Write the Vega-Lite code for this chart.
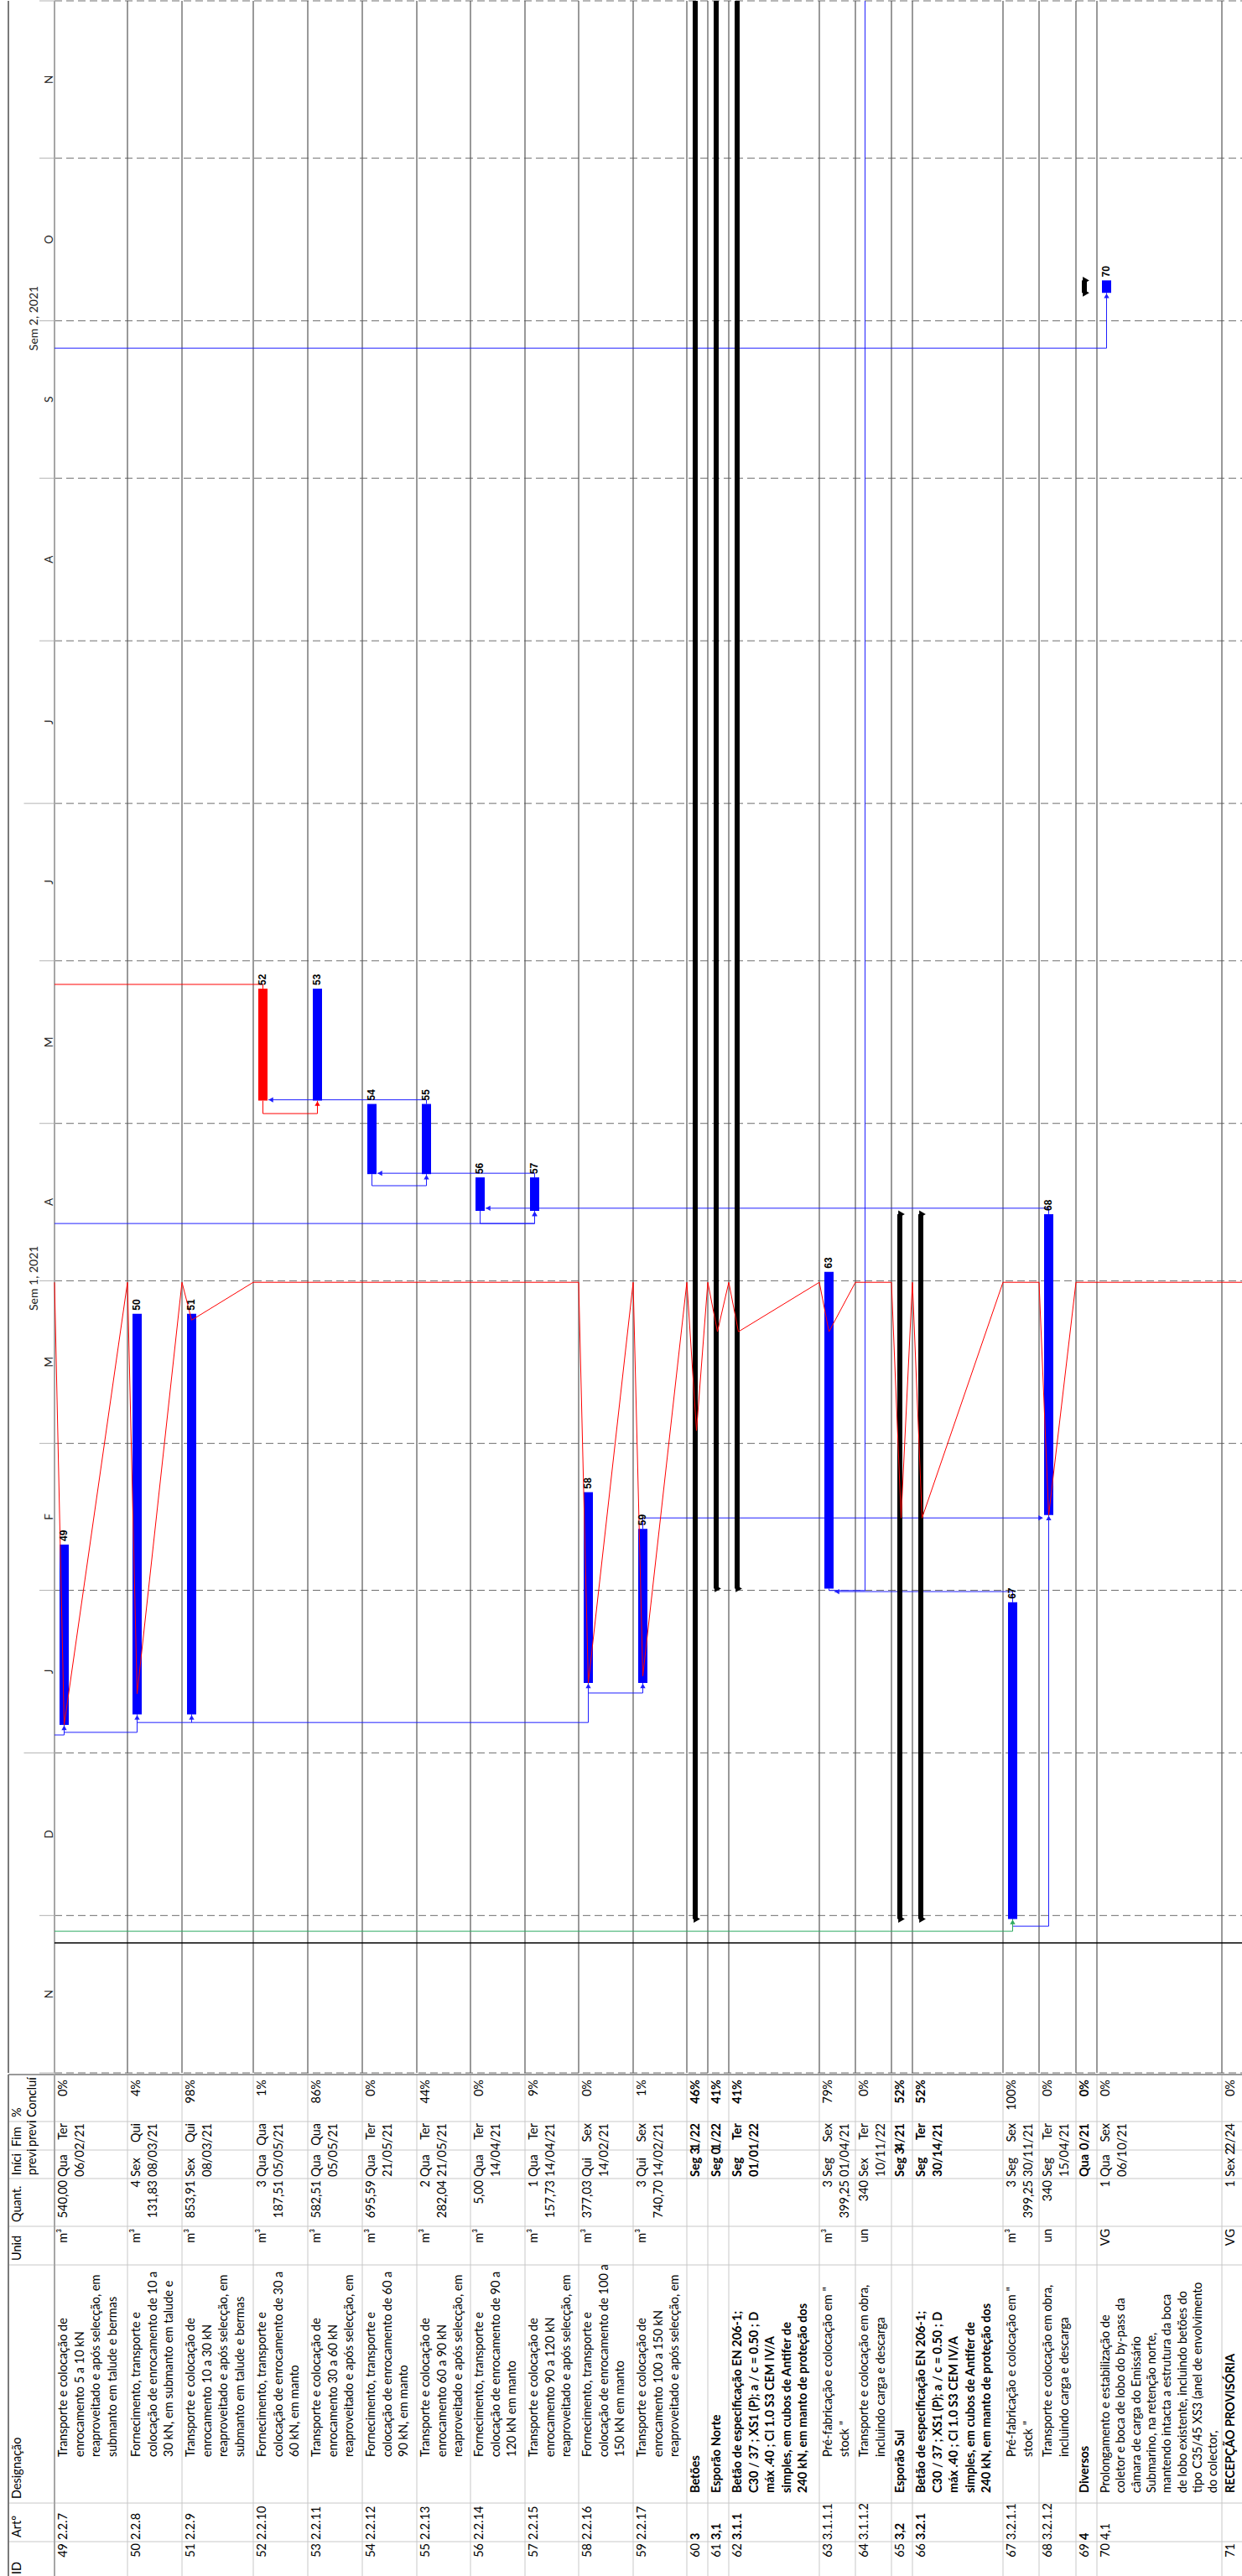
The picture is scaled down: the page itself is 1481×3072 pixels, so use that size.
{
"$schema":"https://vega.github.io/schema/vega-lite/v6.json",
"background":"white",
"padding":0,
"spacing":0,
"config":{"view":{"stroke":null},"legend":{"disable":true},"text":{"font":"Lato","color":"#000000"}},
"resolve":{"scale":{"x":"independent","y":"independent"}},
"datasets":{
"tarefas":[
{"id":49,"art":"2.2.7","des":["Transporte e colocação de","enrocamento 5 a 10 kN","reaproveitado e após selecção, em","submanto em talude e bermas"],"unid":"m³","quant":"540,00","inicio":"Qua 06/01/21","fim":"Ter 09/02/21","pct":"0%","start":"2021-01-06T08:00:00Z","end":"2021-02-09T17:00:00Z","tipo":"tarefa","critica":false,"nivel":4,"linhas":4,"estado":"2021-03-31T17:00:00Z","progresso":"2021-01-06T08:00:00Z"},
{"id":50,"art":"2.2.8","des":["Fornecimento, transporte e","colocação de enrocamento de 10 a","30 kN, em submanto em talude e"],"unid":"m³","quant":"4 131,83","inicio":"Sex 08/01/21","fim":"Qui 25/03/21","pct":"4%","start":"2021-01-08T08:00:00Z","end":"2021-03-25T17:00:00Z","tipo":"tarefa","critica":false,"nivel":4,"linhas":3,"estado":"2021-03-31T17:00:00Z","progresso":"2021-01-12T06:00:00Z"},
{"id":51,"art":"2.2.9","des":["Transporte e colocação de","enrocamento 10 a 30 kN","reaproveitado e após selecção, em","submanto em talude e bermas"],"unid":"m³","quant":"853,91","inicio":"Sex 08/01/21","fim":"Qui 25/03/21","pct":"98%","start":"2021-01-08T08:00:00Z","end":"2021-03-25T17:00:00Z","tipo":"tarefa","critica":false,"nivel":4,"linhas":4,"estado":"2021-03-31T17:00:00Z","progresso":"2021-03-24T12:00:00Z"},
{"id":52,"art":"2.2.10","des":["Fornecimento, transporte e","colocação de enrocamento de 30 a","60 kN, em manto"],"unid":"m³","quant":"3 187,51","inicio":"Qua 05/05/21","fim":"Qua 26/05/21","pct":"1%","start":"2021-05-05T08:00:00Z","end":"2021-05-26T17:00:00Z","tipo":"tarefa","critica":true,"nivel":4,"linhas":3,"estado":"2021-03-31T17:00:00Z"},
{"id":53,"art":"2.2.11","des":["Transporte e colocação de","enrocamento 30 a 60 kN","reaproveitado e após selecção, em"],"unid":"m³","quant":"582,51","inicio":"Qua 05/05/21","fim":"Qua 26/05/21","pct":"86%","start":"2021-05-05T08:00:00Z","end":"2021-05-26T17:00:00Z","tipo":"tarefa","critica":false,"nivel":4,"linhas":3,"estado":"2021-03-31T17:00:00Z"},
{"id":54,"art":"2.2.12","des":["Fornecimento, transporte e","colocação de enrocamento de 60 a","90 kN, em manto"],"unid":"m³","quant":"695,59","inicio":"Qua 21/04/21","fim":"Ter 04/05/21","pct":"0%","start":"2021-04-21T08:00:00Z","end":"2021-05-04T17:00:00Z","tipo":"tarefa","critica":false,"nivel":4,"linhas":3,"estado":"2021-03-31T17:00:00Z"},
{"id":55,"art":"2.2.13","des":["Transporte e colocação de","enrocamento 60 a 90 kN","reaproveitado e após selecção, em"],"unid":"m³","quant":"2 282,04","inicio":"Qua 21/04/21","fim":"Ter 04/05/21","pct":"44%","start":"2021-04-21T08:00:00Z","end":"2021-05-04T17:00:00Z","tipo":"tarefa","critica":false,"nivel":4,"linhas":3,"estado":"2021-03-31T17:00:00Z"},
{"id":56,"art":"2.2.14","des":["Fornecimento, transporte e","colocação de enrocamento de 90 a","120 kN em manto"],"unid":"m³","quant":"5,00","inicio":"Qua 14/04/21","fim":"Ter 20/04/21","pct":"0%","start":"2021-04-14T08:00:00Z","end":"2021-04-20T17:00:00Z","tipo":"tarefa","critica":false,"nivel":4,"linhas":3,"estado":"2021-03-31T17:00:00Z"},
{"id":57,"art":"2.2.15","des":["Transporte e colocação de","enrocamento 90 a 120 kN","reaproveitado e após selecção, em"],"unid":"m³","quant":"1 157,73","inicio":"Qua 14/04/21","fim":"Ter 20/04/21","pct":"9%","start":"2021-04-14T08:00:00Z","end":"2021-04-20T17:00:00Z","tipo":"tarefa","critica":false,"nivel":4,"linhas":3,"estado":"2021-03-31T17:00:00Z"},
{"id":58,"art":"2.2.16","des":["Fornecimento, transporte e","colocação de enrocamento de 100 a","150 kN em manto"],"unid":"m³","quant":"377,03","inicio":"Qui 14/01/21","fim":"Sex 19/02/21","pct":"0%","start":"2021-01-14T08:00:00Z","end":"2021-02-19T17:00:00Z","tipo":"tarefa","critica":false,"nivel":4,"linhas":3,"estado":"2021-03-31T17:00:00Z","progresso":"2021-01-14T08:00:00Z"},
{"id":59,"art":"2.2.17","des":["Transporte e colocação de","enrocamento 100 a 150 kN","reaproveitado e após selecção, em"],"unid":"m³","quant":"3 740,70","inicio":"Qui 14/01/21","fim":"Sex 12/02/21","pct":"1%","start":"2021-01-14T08:00:00Z","end":"2021-02-12T17:00:00Z","tipo":"tarefa","critica":false,"nivel":4,"linhas":3,"estado":"2021-03-31T17:00:00Z","progresso":"2021-01-15T15:00:00Z"},
{"id":60,"art":"3","des":["Betões"],"unid":"","quant":"","inicio":"Seg 30/11/20","fim":"Ter 11/01/22","pct":"46%","start":"2020-11-30T08:00:00Z","end":"2022-01-11T17:00:00Z","tipo":"resumo","critica":false,"nivel":1,"linhas":1,"estado":"2021-03-31T17:00:00Z","progresso":"2021-03-03T10:00:00Z"},
{"id":61,"art":"3,1","des":["Esporão Norte"],"unid":"","quant":"","inicio":"Seg 01/02/21","fim":"Ter 11/01/22","pct":"41%","start":"2021-02-01T08:00:00Z","end":"2022-01-11T17:00:00Z","tipo":"resumo","critica":false,"nivel":2,"linhas":1,"estado":"2021-03-31T17:00:00Z","progresso":"2021-03-22T07:00:00Z"},
{"id":62,"art":"3.1.1","des":["Betão de especificação EN 206-1;","C30 / 37 ; XS1 (P); a / c = 0.50 ; D","máx .40 ; Cl 1.0 S3 CEM IV/A","simples, em cubos de Antifer de","240 kN, em manto de proteção dos"],"unid":"","quant":"","inicio":"Seg 01/02/21","fim":"Ter 11/01/22","pct":"41%","start":"2021-02-01T08:00:00Z","end":"2022-01-11T17:00:00Z","tipo":"resumo","critica":false,"nivel":3,"linhas":5,"estado":"2021-03-31T17:00:00Z","progresso":"2021-03-22T07:00:00Z"},
{"id":63,"art":"3.1.1.1","des":["Pré-fabricação e colocação em \"","stock \""],"unid":"m³","quant":"3 399,25","inicio":"Seg 01/02/21","fim":"Sex 02/04/21","pct":"79%","start":"2021-02-01T08:00:00Z","end":"2021-04-02T17:00:00Z","tipo":"tarefa","critica":false,"nivel":4,"linhas":2,"estado":"2021-03-31T17:00:00Z","progresso":"2021-03-22T07:00:00Z"},
{"id":64,"art":"3.1.1.2","des":["Transporte e colocação em obra,","incluindo carga e descarga"],"unid":"un","quant":"340","inicio":"Sex 10/12/21","fim":"Ter 11/01/22","pct":"0%","start":"2021-12-10T08:00:00Z","end":"2022-01-11T17:00:00Z","tipo":"tarefa","critica":false,"nivel":4,"linhas":2,"estado":"2021-03-31T17:00:00Z"},
{"id":65,"art":"3,2","des":["Esporão Sul"],"unid":"","quant":"","inicio":"Seg 30/11/20","fim":"Ter 13/04/21","pct":"52%","start":"2020-11-30T08:00:00Z","end":"2021-04-13T17:00:00Z","tipo":"resumo","critica":false,"nivel":2,"linhas":1,"estado":"2021-03-31T17:00:00Z","progresso":"2021-02-14T19:00:00Z"},
{"id":66,"art":"3.2.1","des":["Betão de especificação EN 206-1;","C30 / 37 ; XS1 (P); a / c = 0.50 ; D","máx .40 ; Cl 1.0 S3 CEM IV/A","simples, em cubos de Antifer de","240 kN, em manto de proteção dos"],"unid":"","quant":"","inicio":"Seg 30/11/20","fim":"Ter 13/04/21","pct":"52%","start":"2020-11-30T08:00:00Z","end":"2021-04-13T17:00:00Z","tipo":"resumo","critica":false,"nivel":3,"linhas":5,"estado":"2021-03-31T17:00:00Z","progresso":"2021-02-14T19:00:00Z"},
{"id":67,"art":"3.2.1.1","des":["Pré-fabricação e colocação em \"","stock \""],"unid":"m³","quant":"3 399,25","inicio":"Seg 30/11/20","fim":"Sex 29/01/21","pct":"100%","start":"2020-11-30T08:00:00Z","end":"2021-01-29T17:00:00Z","tipo":"tarefa","critica":false,"nivel":4,"linhas":2,"estado":"2021-03-31T17:00:00Z"},
{"id":68,"art":"3.2.1.2","des":["Transporte e colocação em obra,","incluindo carga e descarga"],"unid":"un","quant":"340","inicio":"Seg 15/02/21","fim":"Ter 13/04/21","pct":"0%","start":"2021-02-15T08:00:00Z","end":"2021-04-13T17:00:00Z","tipo":"tarefa","critica":false,"nivel":4,"linhas":2,"estado":"2021-03-31T17:00:00Z","progresso":"2021-02-15T08:00:00Z"},
{"id":69,"art":"4","des":["Diversos"],"unid":"","quant":"","inicio":"Qua 06/10/21","fim":"Sex 08/10/21","pct":"0%","start":"2021-10-06T08:00:00Z","end":"2021-10-08T17:00:00Z","tipo":"resumo","critica":false,"nivel":1,"linhas":1,"estado":"2021-03-31T17:00:00Z"},
{"id":70,"art":"4,1","des":["Prolongamento e estabilização de","coletor e boca de lobo do by-pass da","câmara de carga do Emissário","Submarino, na retenção norte,","mantendo intacta a estrutura da boca","de lobo existente, incluindo betões do","tipo C35/45 XS3 (anel de envolvimento","do colector,"],"unid":"VG","quant":"1","inicio":"Qua 06/10/21","fim":"Sex 08/10/21","pct":"0%","start":"2021-10-06T08:00:00Z","end":"2021-10-08T17:00:00Z","tipo":"tarefa","critica":false,"nivel":2,"linhas":7,"estado":"2021-03-31T17:00:00Z"},
{"id":71,"art":"","des":["RECEPÇÃO PROVISÓRIA"],"unid":"VG","quant":"1","inicio":"Sex 20/12/24","fim":"Sex 20/12/24","pct":"0%","start":"2024-12-20T08:00:00Z","end":"2024-12-20T08:00:00Z","tipo":"marco","critica":false,"nivel":1,"linhas":1,"estado":"2021-03-31T17:00:00Z"}
],
"ligacoes":[
{"de":49,"para":49,"externo":true,"t":"2021-01-04T10:00:00Z","t1":"2021-01-06T08:00:00Z","seta":"cima","cat":"normal"},
{"de":49,"para":50,"externo":false,"t0":"2021-01-06T08:00:00Z","t":"2021-01-04T22:00:00Z","t1":"2021-01-08T08:00:00Z","seta":"cima","cat":"normal"},
{"de":50,"para":51,"externo":false,"t0":"2021-01-08T08:00:00Z","t":"2021-01-06T19:00:00Z","t1":"2021-01-08T08:00:00Z","seta":"cima","cat":"normal"},
{"de":51,"para":58,"externo":false,"t0":"2021-01-08T08:00:00Z","t":"2021-01-06T19:00:00Z","t1":"2021-01-14T08:00:00Z","seta":"cima","cat":"normal"},
{"de":58,"para":59,"externo":false,"t0":"2021-01-14T08:00:00Z","t":"2021-01-12T10:00:00Z","t1":"2021-01-14T08:00:00Z","seta":"cima","cat":"normal"},
{"de":59,"para":68,"externo":false,"t0":"2021-02-12T17:00:00Z","t":"2021-02-14T19:00:00Z","t1":"2021-02-14T19:00:00Z","seta":"direita","cat":"normal"},
{"de":67,"para":63,"externo":false,"t0":"2021-01-29T17:00:00Z","t":"2021-01-31T18:00:00Z","t1":"2021-01-31T18:00:00Z","seta":"esquerda","cat":"normal"},
{"de":63,"para":64,"externo":false,"t0":"2021-02-01T08:00:00Z","t":"2021-01-31T23:00:00Z","t1":"2021-12-10T08:00:00Z","seta":"cima","cat":"normal"},
{"de":67,"para":68,"externo":false,"t0":"2020-11-30T08:00:00Z","t":"2020-11-28T23:00:00Z","t1":"2021-02-15T08:00:00Z","seta":"cima","cat":"normal"},
{"de":49,"para":67,"externo":true,"t":"2020-11-28T00:00:00Z","t1":"2020-11-30T08:00:00Z","seta":"cima","cat":"motriz"},
{"de":68,"para":56,"externo":false,"t0":"2021-04-13T17:00:00Z","t":"2021-04-14T20:00:00Z","t1":"2021-04-14T20:00:00Z","seta":"esquerda","cat":"normal"},
{"de":49,"para":57,"externo":true,"t":"2021-04-11T22:00:00Z","t1":"2021-04-14T08:00:00Z","seta":"cima","cat":"normal"},
{"de":56,"para":57,"externo":false,"t0":"2021-04-14T08:00:00Z","t":"2021-04-11T22:00:00Z","t1":"2021-04-14T08:00:00Z","seta":"cima","cat":"normal"},
{"de":57,"para":54,"externo":false,"t0":"2021-04-20T17:00:00Z","t":"2021-04-21T12:00:00Z","t1":"2021-04-21T12:00:00Z","seta":"esquerda","cat":"normal"},
{"de":54,"para":55,"externo":false,"t0":"2021-04-21T08:00:00Z","t":"2021-04-19T03:00:00Z","t1":"2021-04-21T08:00:00Z","seta":"cima","cat":"normal"},
{"de":55,"para":52,"externo":false,"t0":"2021-05-04T17:00:00Z","t":"2021-05-05T12:00:00Z","t1":"2021-05-05T12:00:00Z","seta":"esquerda","cat":"normal"},
{"de":52,"para":53,"externo":false,"t0":"2021-05-05T08:00:00Z","t":"2021-05-02T21:00:00Z","t1":"2021-05-05T08:00:00Z","seta":"cima","cat":"critica"},
{"de":49,"para":52,"externo":true,"t":"2021-05-27T12:00:00Z","t1":"2021-05-26T17:00:00Z","seta":"nenhuma","cat":"critica"},
{"de":49,"para":70,"externo":true,"t":"2021-09-25T19:00:00Z","t1":"2021-10-06T08:00:00Z","seta":"cima","cat":"normal"}
],
"meses":[
{"mes":"2020-11-01","meio":"2020-11-16T00:00:00Z","letra":"N"},{"mes":"2020-12-01","meio":"2020-12-16T12:00:00Z","letra":"D"},{"mes":"2021-01-01","meio":"2021-01-16T12:00:00Z","letra":"J"},{"mes":"2021-02-01","meio":"2021-02-15T00:00:00Z","letra":"F"},{"mes":"2021-03-01","meio":"2021-03-16T12:00:00Z","letra":"M"},{"mes":"2021-04-01","meio":"2021-04-16T00:00:00Z","letra":"A"},{"mes":"2021-05-01","meio":"2021-05-16T12:00:00Z","letra":"M"},{"mes":"2021-06-01","meio":"2021-06-16T00:00:00Z","letra":"J"},{"mes":"2021-07-01","meio":"2021-07-16T12:00:00Z","letra":"J"},{"mes":"2021-08-01","meio":"2021-08-16T12:00:00Z","letra":"A"},{"mes":"2021-09-01","meio":"2021-09-16T00:00:00Z","letra":"S"},{"mes":"2021-10-01","meio":"2021-10-16T12:00:00Z","letra":"O"},{"mes":"2021-11-01","meio":"2021-11-16T00:00:00Z","letra":"N"},{"mes":"2021-12-01","meio":"2021-12-16T12:00:00Z","letra":"D"}
],
"semestres":[
{"ini":"2021-01-01","centro":"2021-04-01T12:00:00Z","rotulo":"Sem 1, 2021"},
{"ini":"2021-07-01","centro":"2021-10-01T12:00:00Z","rotulo":"Sem 2, 2021"}
],
"colunas":[
{"i":1,"rotulo":["%","Concluído"]},{"i":2,"rotulo":["Fim","previsto"]},{"i":3,"rotulo":["Início","previsto"]},{"i":4,"rotulo":["Quant."]},{"i":5,"rotulo":["Unid"]},{"i":6,"rotulo":["Designação"]},{"i":7,"rotulo":["Artº"]},{"i":8,"rotulo":["ID"]}
],
"um":[{"k":1}]
},
"vconcat":[
{"width":1481,"height":2471,"layer":[
{"data":{"name":"meses"},"mark":{"type":"rule","color":"#6e6e6e","strokeWidth":1,"strokeDash":[9,5]},"encoding":{"x":{"datum":49,"type":"quantitative","axis":null,"scale":{"type":"linear","zero":false,"nice":false,"domain":[46,47,48,49,50,51,52,53,54,55,56,57,58,59,60,61,62,63,64,65,66,67,68,69,70,71,72],"range":[0,10,47,65,152,217,302,367,432,497,561,626,690,755,819,844,869,977,1020,1063,1088,1196,1239,1283,1308,1457,1482]}},"x2":{"datum":72},"y":{"field":"mes","type":"temporal","axis":null,"scale":{"type":"utc","nice":false,"domain":[{"year":2020,"month":11,"date":1,"utc":true},{"year":2021,"month":12,"date":1,"utc":true}]}}}},
{"data":{"name":"meses"},"mark":{"type":"rule","color":"#b4b4b4","strokeWidth":1},"encoding":{"x":{"datum":48,"type":"quantitative","axis":null},"x2":{"datum":49},"y":{"field":"mes","type":"temporal","axis":null}}},
{"data":{"name":"semestres"},"mark":{"type":"rule","color":"#b4b4b4","strokeWidth":1},"encoding":{"x":{"datum":47.5,"type":"quantitative","axis":null},"x2":{"datum":48},"y":{"field":"ini","type":"temporal","axis":null}}},
{"data":{"name":"semestres"},"mark":{"type":"text","angle":270,"align":"center","baseline":"alphabetic","font":"Lato","fontSize":14,"color":"#222222","xOffset":-2},"encoding":{"x":{"datum":48,"type":"quantitative","axis":null},"y":{"field":"centro","type":"temporal","axis":null},"text":{"field":"rotulo","type":"nominal"}}},
{"data":{"name":"meses"},"transform":[{"filter":"+toDate(datum.meio) < utc(2021, 11, 1)"}],"mark":{"type":"text","angle":270,"align":"center","baseline":"alphabetic","font":"Lato","fontSize":13.5,"color":"#222222","xOffset":-2},"encoding":{"x":{"datum":49,"type":"quantitative","axis":null},"y":{"field":"meio","type":"temporal","axis":null},"text":{"field":"letra","type":"nominal"}}},
{"data":{"name":"tarefas"},"transform":[{"filter":"datum.id > 49"}],"mark":{"type":"rule","color":"#555555","strokeWidth":1.2},"encoding":{"x":{"field":"id","type":"quantitative","axis":null}}},
{"data":{"name":"um"},"mark":{"type":"rule","color":"#a6a6a6","strokeWidth":2},"encoding":{"x":{"datum":49,"type":"quantitative","axis":null}}},
{"data":{"name":"um"},"mark":{"type":"rule","color":"#7a7a7a","strokeWidth":2},"encoding":{"x":{"datum":47,"type":"quantitative","axis":null}}},
{"data":{"name":"um"},"mark":{"type":"rule","color":"#000000","strokeWidth":1.5},"encoding":{"x":{"datum":49,"type":"quantitative","axis":null},"x2":{"datum":72},"y":{"datum":{"year":2020,"month":11,"date":25,"hours":19,"utc":true},"type":"temporal","axis":null}}},
{"data":{"name":"ligacoes"},"transform":[{"filter":"!datum.externo"}],"mark":{"type":"rule","strokeWidth":1,"xOffset":11.5,"clip":true},"encoding":{"x":{"field":"de","type":"quantitative","axis":null},"y":{"field":"t0","type":"temporal","axis":null},"y2":{"field":"t"},"color":{"field":"cat","type":"nominal","scale":{"domain":["normal","critica","motriz"],"range":["#1f1fff","#ff0000","#2eaa62"]},"legend":null}}},
{"data":{"name":"ligacoes"},"transform":[{"filter":"datum.externo"}],"mark":{"type":"rule","strokeWidth":1,"x2Offset":11.5,"clip":true},"encoding":{"x":{"field":"de","type":"quantitative","axis":null},"x2":{"field":"para"},"y":{"field":"t","type":"temporal","axis":null},"color":{"field":"cat","type":"nominal","legend":null}}},
{"data":{"name":"ligacoes"},"transform":[{"filter":"!datum.externo && datum.seta == 'cima'"}],"mark":{"type":"rule","strokeWidth":1,"xOffset":11.5,"x2Offset":11.5,"clip":true},"encoding":{"x":{"field":"de","type":"quantitative","axis":null},"x2":{"field":"para"},"y":{"field":"t","type":"temporal","axis":null},"color":{"field":"cat","type":"nominal","legend":null}}},
{"data":{"name":"ligacoes"},"transform":[{"filter":"datum.seta == 'esquerda'"}],"mark":{"type":"rule","strokeWidth":1,"xOffset":11.5,"x2Offset":18,"clip":true},"encoding":{"x":{"field":"de","type":"quantitative","axis":null},"x2":{"field":"para"},"y":{"field":"t","type":"temporal","axis":null},"color":{"field":"cat","type":"nominal","legend":null}}},
{"data":{"name":"ligacoes"},"transform":[{"filter":"datum.seta == 'direita'"}],"mark":{"type":"rule","strokeWidth":1,"xOffset":11.5,"x2Offset":4,"clip":true},"encoding":{"x":{"field":"de","type":"quantitative","axis":null},"x2":{"field":"para"},"y":{"field":"t","type":"temporal","axis":null},"color":{"field":"cat","type":"nominal","legend":null}}},
{"data":{"name":"ligacoes"},"transform":[{"filter":"datum.seta == 'cima' || datum.seta == 'nenhuma'"}],"mark":{"type":"rule","strokeWidth":1,"xOffset":11.5,"clip":true},"encoding":{"x":{"field":"para","type":"quantitative","axis":null},"y":{"field":"t","type":"temporal","axis":null},"y2":{"field":"t1"},"color":{"field":"cat","type":"nominal","legend":null}}},
{"data":{"name":"ligacoes"},"transform":[{"filter":"datum.seta == 'cima'"}],"mark":{"type":"point","shape":"triangle-up","filled":true,"opacity":1,"size":40,"xOffset":11.5,"yOffset":3.5,"clip":true},"encoding":{"x":{"field":"para","type":"quantitative","axis":null},"y":{"field":"t1","type":"temporal","axis":null},"color":{"field":"cat","type":"nominal","legend":null}}},
{"data":{"name":"ligacoes"},"transform":[{"filter":"datum.seta == 'esquerda'"}],"mark":{"type":"point","shape":"triangle-left","filled":true,"opacity":1,"size":40,"xOffset":21,"clip":true},"encoding":{"x":{"field":"para","type":"quantitative","axis":null},"y":{"field":"t","type":"temporal","axis":null},"color":{"field":"cat","type":"nominal","legend":null}}},
{"data":{"name":"ligacoes"},"transform":[{"filter":"datum.seta == 'direita'"}],"mark":{"type":"point","shape":"triangle-right","filled":true,"opacity":1,"size":40,"xOffset":2,"clip":true},"encoding":{"x":{"field":"para","type":"quantitative","axis":null},"y":{"field":"t","type":"temporal","axis":null},"color":{"field":"cat","type":"nominal","legend":null}}},
{"data":{"name":"tarefas"},"transform":[{"filter":"datum.tipo == 'tarefa'"}],"mark":{"type":"rect","xOffset":6,"x2Offset":17,"clip":true},"encoding":{"x":{"field":"id","type":"quantitative","axis":null},"x2":{"field":"id"},"y":{"field":"start","type":"temporal","axis":null},"y2":{"field":"end"},"fill":{"condition":{"test":"datum.critica","value":"#ff0000"},"value":"#0000ff"}}},
{"data":{"name":"tarefas"},"transform":[{"filter":"datum.tipo == 'resumo'"}],"mark":{"type":"rect","xOffset":7,"x2Offset":13,"color":"#000000","clip":true},"encoding":{"x":{"field":"id","type":"quantitative","axis":null},"x2":{"field":"id"},"y":{"field":"start","type":"temporal","axis":null},"y2":{"field":"end"}}},
{"data":{"name":"tarefas"},"transform":[{"filter":"datum.tipo == 'resumo'"}],"mark":{"type":"point","shape":"triangle-right","filled":true,"opacity":1,"size":80,"color":"#000000","xOffset":12,"clip":true},"encoding":{"x":{"field":"id","type":"quantitative","axis":null},"y":{"field":"start","type":"temporal","axis":null}}},
{"data":{"name":"tarefas"},"transform":[{"filter":"datum.tipo == 'resumo'"}],"mark":{"type":"point","shape":"triangle-right","filled":true,"opacity":1,"size":80,"color":"#000000","xOffset":12,"clip":true},"encoding":{"x":{"field":"id","type":"quantitative","axis":null},"y":{"field":"end","type":"temporal","axis":null}}},
{"data":{"name":"tarefas"},"transform":[{"window":[{"op":"lead","field":"id","as":"prox"}],"sort":[{"field":"id","order":"ascending"}]},{"filter":"!datum.progresso && datum.prox != null"}],"mark":{"type":"rule","color":"#ff0000","strokeWidth":1},"encoding":{"x":{"field":"id","type":"quantitative","axis":null},"x2":{"field":"prox"},"y":{"field":"estado","type":"temporal","axis":null}}},
{"data":{"name":"tarefas"},"transform":[{"filter":"datum.id == 71"}],"mark":{"type":"rule","color":"#ff0000","strokeWidth":1,"x2Offset":30},"encoding":{"x":{"field":"id","type":"quantitative","axis":null},"x2":{"field":"id"},"y":{"field":"estado","type":"temporal","axis":null}}},
{"data":{"name":"tarefas"},"transform":[{"filter":"datum.progresso"}],"mark":{"type":"rule","color":"#ff0000","strokeWidth":1,"x2Offset":11.5},"encoding":{"x":{"field":"id","type":"quantitative","axis":null},"x2":{"field":"id"},"y":{"field":"estado","type":"temporal","axis":null},"y2":{"field":"progresso"}}},
{"data":{"name":"tarefas"},"transform":[{"window":[{"op":"lead","field":"id","as":"prox"}],"sort":[{"field":"id","order":"ascending"}]},{"filter":"datum.progresso && datum.prox != null"}],"mark":{"type":"rule","color":"#ff0000","strokeWidth":1,"xOffset":11.5},"encoding":{"x":{"field":"id","type":"quantitative","axis":null},"x2":{"field":"prox"},"y":{"field":"progresso","type":"temporal","axis":null},"y2":{"field":"estado"}}},
{"data":{"name":"tarefas"},"transform":[{"filter":"datum.tipo == 'tarefa' && +toDate(datum.end) < utc(2021, 11, 1)"}],"mark":{"type":"text","angle":270,"align":"left","baseline":"middle","font":"Liberation Sans","fontWeight":"bold","fontSize":12,"color":"#000000","xOffset":11,"yOffset":-4},"encoding":{"x":{"field":"id","type":"quantitative","axis":null},"y":{"field":"end","type":"temporal","axis":null},"text":{"field":"id","type":"nominal"}}}
]},
{"width":1481,"height":601,"layer":[
{"data":{"name":"colunas"},"transform":[{"filter":"datum.i < 8"}],"mark":{"type":"rule","color":"#c8c8c8","strokeWidth":1},"encoding":{"x":{"datum":47,"type":"quantitative","axis":null,"scale":{"type":"linear","zero":false,"nice":false,"domain":[46,47,48,49,50,51,52,53,54,55,56,57,58,59,60,61,62,63,64,65,66,67,68,69,70,71,72],"range":[0,10,47,65,152,217,302,367,432,497,561,626,690,755,819,844,869,977,1020,1063,1088,1196,1239,1283,1308,1457,1482]}},"x2":{"datum":72},"y":{"field":"i","type":"quantitative","axis":null,"scale":{"type":"linear","zero":false,"nice":false,"domain":[0,1,2,3,4,5,6,7,8],"range":[0,56,90,124,181,227,511,557,601]}}}},
{"data":{"name":"tarefas"},"transform":[{"filter":"datum.id > 49"}],"mark":{"type":"rule","color":"#c8c8c8","strokeWidth":1},"encoding":{"x":{"field":"id","type":"quantitative","axis":null}}},
{"data":{"name":"um"},"mark":{"type":"rule","color":"#9a9a9a","strokeWidth":2},"encoding":{"x":{"datum":47,"type":"quantitative","axis":null},"x2":{"datum":72},"y":{"datum":0,"type":"quantitative","axis":null}}},
{"data":{"name":"um"},"mark":{"type":"rule","color":"#a6a6a6","strokeWidth":2},"encoding":{"x":{"datum":49,"type":"quantitative","axis":null}}},
{"data":{"name":"um"},"mark":{"type":"rule","color":"#7a7a7a","strokeWidth":2},"encoding":{"x":{"datum":47,"type":"quantitative","axis":null}}},
{"data":{"name":"colunas"},"transform":[{"filter":"datum.i == 1"}],"mark":{"type":"text","angle":270,"align":"left","baseline":"top","font":"Lato","fontSize":14.5,"lineHeight":18,"xOffset":4,"yOffset":-5,"limit":54,"ellipsis":"\u200a"},"encoding":{"x":{"datum":47,"type":"quantitative","axis":null},"y":{"field":"i","type":"quantitative","axis":null},"text":{"field":"rotulo","type":"nominal"}}},
{"data":{"name":"colunas"},"transform":[{"filter":"datum.i == 2 || datum.i == 3"}],"mark":{"type":"text","angle":270,"align":"left","baseline":"top","font":"Lato","fontSize":14.5,"lineHeight":18,"xOffset":4,"yOffset":-4,"limit":33,"ellipsis":"\u200a"},"encoding":{"x":{"datum":47,"type":"quantitative","axis":null},"y":{"field":"i","type":"quantitative","axis":null},"text":{"field":"rotulo","type":"nominal"}}},
{"data":{"name":"colunas"},"transform":[{"filter":"datum.i >= 4"}],"mark":{"type":"text","angle":270,"align":"left","baseline":"top","font":"Lato","fontSize":14.5,"lineHeight":18,"xOffset":4,"yOffset":-5},"encoding":{"x":{"datum":47,"type":"quantitative","axis":null},"y":{"field":"i","type":"quantitative","axis":null},"text":{"field":"rotulo","type":"nominal"}}},
{"data":{"name":"tarefas"},"mark":{"type":"text","angle":270,"align":"right","baseline":"top","font":"Lato","fontSize":14.5,"xOffset":4,"yOffset":2},"encoding":{"x":{"field":"id","type":"quantitative","axis":null},"y":{"datum":7,"type":"quantitative","axis":null},"text":{"field":"id","type":"nominal"}}},
{"data":{"name":"tarefas"},"transform":[{"filter":"datum.tipo != 'resumo'"}],"mark":{"type":"text","angle":270,"align":"left","baseline":"top","font":"Lato","fontSize":14.5,"xOffset":4,"yOffset":-2},"encoding":{"x":{"field":"id","type":"quantitative","axis":null},"y":{"datum":7,"type":"quantitative","axis":null},"text":{"field":"art","type":"nominal"}}},
{"data":{"name":"tarefas"},"transform":[{"filter":"datum.tipo == 'resumo'"}],"mark":{"type":"text","angle":270,"align":"left","baseline":"top","font":"Lato","fontWeight":"bold","fontSize":14.5,"xOffset":4,"yOffset":-2},"encoding":{"x":{"field":"id","type":"quantitative","axis":null},"y":{"datum":7,"type":"quantitative","axis":null},"text":{"field":"art","type":"nominal"}}},
{"data":{"name":"tarefas"},"transform":[{"filter":"datum.nivel == 4"}],"mark":{"type":"text","angle":270,"align":"left","baseline":"top","font":"Lato","fontSize":14.5,"lineHeight":19.5,"xOffset":4,"yOffset":-55},"encoding":{"x":{"field":"id","type":"quantitative","axis":null},"y":{"datum":6,"type":"quantitative","axis":null},"text":{"field":"des","type":"nominal"}}},
{"data":{"name":"tarefas"},"transform":[{"filter":"datum.nivel != 4 && datum.tipo == 'tarefa'"}],"mark":{"type":"text","angle":270,"align":"left","baseline":"top","font":"Lato","fontSize":14.5,"lineHeight":18.3,"xOffset":4,"yOffset":-12},"encoding":{"x":{"field":"id","type":"quantitative","axis":null},"y":{"datum":6,"type":"quantitative","axis":null},"text":{"field":"des","type":"nominal"}}},
{"data":{"name":"tarefas"},"transform":[{"filter":"datum.tipo != 'tarefa'"}],"mark":{"type":"text","angle":270,"align":"left","baseline":"top","font":"Lato","fontWeight":"bold","fontSize":14.5,"lineHeight":19.5,"xOffset":4,"yOffset":-12},"encoding":{"x":{"field":"id","type":"quantitative","axis":null},"y":{"datum":6,"type":"quantitative","axis":null},"text":{"field":"des","type":"nominal"}}},
{"data":{"name":"tarefas"},"mark":{"type":"text","angle":270,"align":"right","baseline":"top","font":"Lato","fontSize":14.5,"xOffset":4,"yOffset":3},"encoding":{"x":{"field":"id","type":"quantitative","axis":null},"y":{"datum":4,"type":"quantitative","axis":null},"text":{"field":"unid","type":"nominal"}}},
{"data":{"name":"tarefas"},"mark":{"type":"text","angle":270,"align":"right","baseline":"top","font":"Lato","fontSize":14.5,"lineHeight":19.5,"xOffset":4,"yOffset":2,"lineBreak":" "},"encoding":{"x":{"field":"id","type":"quantitative","axis":null},"y":{"datum":3,"type":"quantitative","axis":null},"text":{"field":"quant","type":"nominal"}}},
{"data":{"name":"tarefas"},"transform":[{"filter":"datum.linhas > 1 && datum.tipo != 'resumo'"}],"mark":{"type":"text","angle":270,"align":"left","baseline":"top","font":"Lato","fontSize":14.5,"lineHeight":19.5,"xOffset":4,"yOffset":-2,"lineBreak":" ","limit":34,"ellipsis":"\u200a"},"encoding":{"x":{"field":"id","type":"quantitative","axis":null},"y":{"datum":3,"type":"quantitative","axis":null},"text":{"field":"inicio","type":"nominal"}}},
{"data":{"name":"tarefas"},"transform":[{"filter":"datum.linhas > 1 && datum.tipo == 'resumo'"}],"mark":{"type":"text","angle":270,"align":"left","baseline":"top","font":"Lato","fontWeight":"bold","fontSize":14.5,"lineHeight":19.5,"xOffset":4,"yOffset":-2,"lineBreak":" ","limit":34,"ellipsis":"\u200a"},"encoding":{"x":{"field":"id","type":"quantitative","axis":null},"y":{"datum":3,"type":"quantitative","axis":null},"text":{"field":"inicio","type":"nominal"}}},
{"data":{"name":"tarefas"},"transform":[{"filter":"datum.linhas == 1 && datum.tipo != 'resumo'"}],"mark":{"type":"text","angle":270,"align":"left","baseline":"top","font":"Lato","fontSize":14.5,"xOffset":4,"yOffset":-2,"limit":39,"ellipsis":"\u200a"},"encoding":{"x":{"field":"id","type":"quantitative","axis":null},"y":{"datum":3,"type":"quantitative","axis":null},"text":{"field":"inicio","type":"nominal"}}},
{"data":{"name":"tarefas"},"transform":[{"filter":"datum.linhas == 1 && datum.tipo == 'resumo'"}],"mark":{"type":"text","angle":270,"align":"left","baseline":"top","font":"Lato","fontWeight":"bold","fontSize":14.5,"xOffset":4,"yOffset":-2,"limit":39,"ellipsis":"\u200a"},"encoding":{"x":{"field":"id","type":"quantitative","axis":null},"y":{"datum":3,"type":"quantitative","axis":null},"text":{"field":"inicio","type":"nominal"}}},
{"data":{"name":"tarefas"},"transform":[{"filter":"datum.linhas > 1 && datum.tipo != 'resumo'"}],"mark":{"type":"text","angle":270,"align":"right","baseline":"top","font":"Lato","fontSize":14.5,"lineHeight":19.5,"xOffset":4,"yOffset":2,"lineBreak":" ","limit":34,"ellipsis":"\u200a","dir":"rtl"},"encoding":{"x":{"field":"id","type":"quantitative","axis":null},"y":{"datum":1,"type":"quantitative","axis":null},"text":{"field":"fim","type":"nominal"}}},
{"data":{"name":"tarefas"},"transform":[{"filter":"datum.linhas > 1 && datum.tipo == 'resumo'"}],"mark":{"type":"text","angle":270,"align":"right","baseline":"top","font":"Lato","fontWeight":"bold","fontSize":14.5,"lineHeight":19.5,"xOffset":4,"yOffset":2,"lineBreak":" ","limit":34,"ellipsis":"\u200a","dir":"rtl"},"encoding":{"x":{"field":"id","type":"quantitative","axis":null},"y":{"datum":1,"type":"quantitative","axis":null},"text":{"field":"fim","type":"nominal"}}},
{"data":{"name":"tarefas"},"transform":[{"filter":"datum.linhas == 1 && datum.tipo != 'resumo'"}],"mark":{"type":"text","angle":270,"align":"right","baseline":"top","font":"Lato","fontSize":14.5,"xOffset":4,"yOffset":2,"limit":34,"ellipsis":"\u200a","dir":"rtl"},"encoding":{"x":{"field":"id","type":"quantitative","axis":null},"y":{"datum":1,"type":"quantitative","axis":null},"text":{"field":"fim","type":"nominal"}}},
{"data":{"name":"tarefas"},"transform":[{"filter":"datum.linhas == 1 && datum.tipo == 'resumo'"}],"mark":{"type":"text","angle":270,"align":"right","baseline":"top","font":"Lato","fontWeight":"bold","fontSize":14.5,"xOffset":4,"yOffset":2,"limit":34,"ellipsis":"\u200a","dir":"rtl"},"encoding":{"x":{"field":"id","type":"quantitative","axis":null},"y":{"datum":1,"type":"quantitative","axis":null},"text":{"field":"fim","type":"nominal"}}},
{"data":{"name":"tarefas"},"transform":[{"filter":"datum.tipo != 'resumo'"}],"mark":{"type":"text","angle":270,"align":"right","baseline":"top","font":"Lato","fontSize":14.5,"xOffset":4,"yOffset":6},"encoding":{"x":{"field":"id","type":"quantitative","axis":null},"y":{"datum":0,"type":"quantitative","axis":null},"text":{"field":"pct","type":"nominal"}}},
{"data":{"name":"tarefas"},"transform":[{"filter":"datum.tipo == 'resumo'"}],"mark":{"type":"text","angle":270,"align":"right","baseline":"top","font":"Lato","fontWeight":"bold","fontSize":14.5,"xOffset":4,"yOffset":6},"encoding":{"x":{"field":"id","type":"quantitative","axis":null},"y":{"datum":0,"type":"quantitative","axis":null},"text":{"field":"pct","type":"nominal"}}}
]}
]
}
